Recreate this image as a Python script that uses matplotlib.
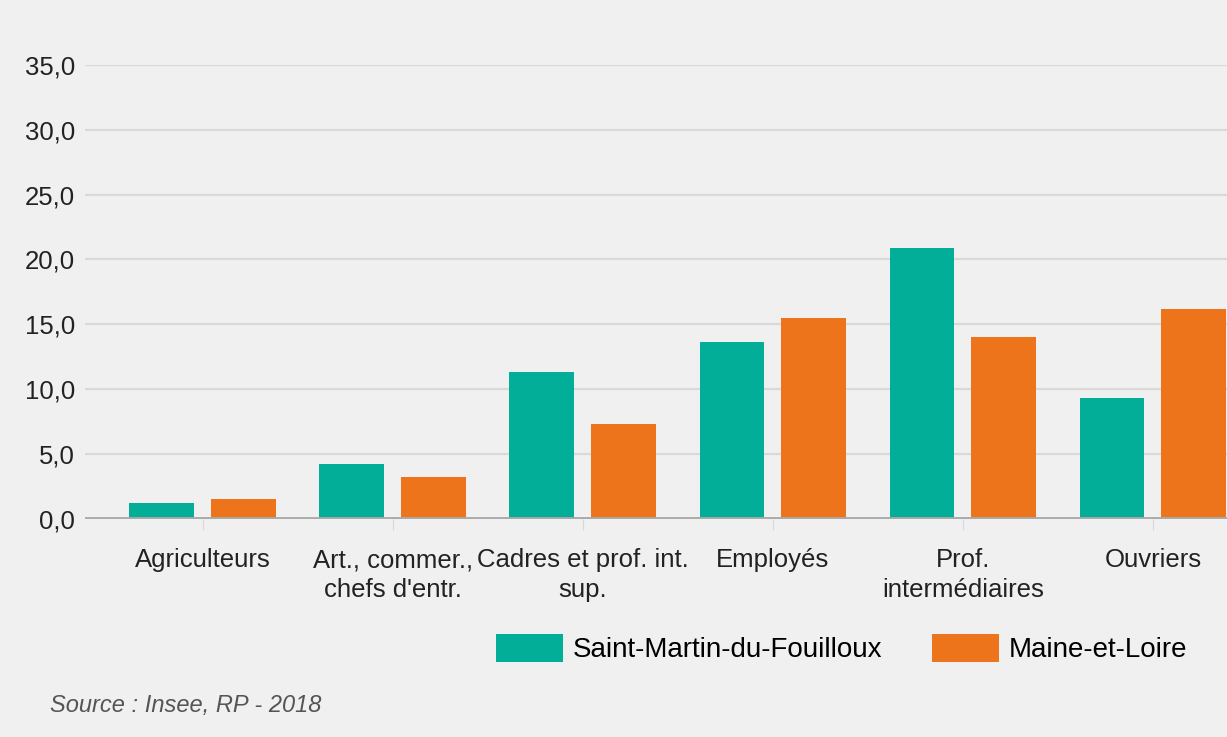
"""
Catégories socioprofessionnelles - Saint-Martin-du-Fouilloux vs Maine-et-Loire
"""
import numpy as np
import matplotlib.pyplot as plt
from matplotlib.patches import Patch

categories = ['Agriculteurs', 'Art., commer.,\nchefs d\'entr.', 'Cadres et prof. int.\nsup.',
              'Employés', 'Prof.\nintermédiaires', 'Ouvriers']
commune = [1.2, 4.2, 11.3, 13.6, 20.9, 9.3]
departement = [1.5, 3.2, 7.3, 15.5, 14.0, 16.2]
series_names = ['Saint-Martin-du-Fouilloux', 'Maine-et-Loire']
y_ticks = [0, 5, 10, 15, 20, 25, 30, 35]

teal = '#03ae98'
orange = '#ee741c'
bg = '#f0f0f0'

plt.rcParams['font.family'] = ['Liberation Sans', 'DejaVu Sans']

fig = plt.figure(figsize=(12.27, 7.37), dpi=100, facecolor=bg)
ax = fig.add_axes([0.069, 0.296, 0.931, 0.616], facecolor=bg)

x = np.arange(len(categories))
w = 0.34
ax.bar(x - 0.215, commune, width=w, color=teal, zorder=3)
ax.bar(x + 0.215, departement, width=w, color=orange, zorder=3)

ax.set_xlim(-0.62, 5.39)
ax.set_ylim(0, 35)
ax.set_yticks(y_ticks)
ax.set_yticklabels([f'{v:.1f}'.replace('.', ',') for v in y_ticks], fontsize=18.5, color='#222222')
ax.grid(axis='y', color='#d9d9d9', linewidth=1.6, zorder=0)
ax.axhline(0, color='#aaaaaa', linewidth=3.5, zorder=4)

ax.set_xticks(x)
ax.set_xticklabels(categories, fontsize=18.5, color='#222222', linespacing=1.3)
ax.tick_params(axis='x', length=8, color='#d8d8d8', pad=13)
ax.tick_params(axis='y', length=0, pad=7)
for s in ax.spines.values():
    s.set_visible(False)

handles = [Patch(facecolor=teal), Patch(facecolor=orange)]
fig.legend(handles, series_names, loc='center right', bbox_to_anchor=(0.988, 0.12),
           ncol=2, frameon=False, fontsize=20, handlelength=2.4, handleheight=1.2,
           handletextpad=0.35, columnspacing=1.8)

fig.text(0.041, 0.043, 'Source : Insee, RP - 2018', fontsize=17, style='italic',
         color='#555555', va='center')

fig.savefig('out.png', dpi=100, facecolor=bg)
